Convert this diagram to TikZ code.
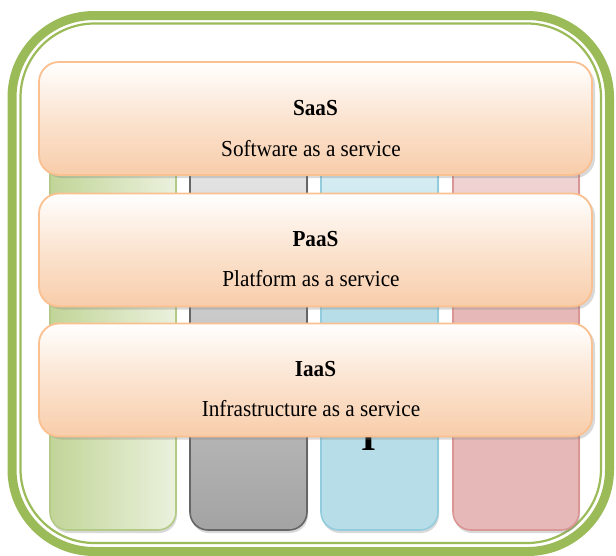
\documentclass[tikz,border=0pt]{standalone}
\usepackage{fontspec}
\usepackage{graphicx}
\setmainfont{Liberation Serif}
\usetikzlibrary{shadows}
\definecolor{frameg}{HTML}{9BBB59}
\definecolor{peachb}{HTML}{F8CDAA}
\definecolor{peachd}{HTML}{FAC090}
\definecolor{grnL}{HTML}{C2D598}
\definecolor{grnR}{HTML}{EBF1DE}
\definecolor{grnB}{HTML}{B3CB86}
\definecolor{gryB}{HTML}{666666}
\definecolor{bluF}{HTML}{B7DEE8}
\definecolor{bluB}{HTML}{93CDDD}
\definecolor{redF}{HTML}{E6B9B8}
\definecolor{redB}{HTML}{D99694}
\newcommand\tallTxt[1]{\scalebox{1}[1.08]{#1}}
\tikzset{
  col/.style={rectangle, rounded corners=18pt, inner sep=0pt, line width=1.6pt,
    drop shadow={shadow xshift=1pt, shadow yshift=-3pt, opacity=0.3}},
  layer/.style={rectangle, rounded corners=20pt, inner sep=0pt, draw=peachd, line width=1.8pt,
    minimum width=553pt, minimum height=113pt, top color=white, bottom color=peachb, middle color=peachb!55,
    drop shadow={shadow xshift=3pt, shadow yshift=-3pt, opacity=0.3}},
  ttl/.style={anchor=base, font=\fontsize{21.2}{25}\selectfont\bfseries},
  sub/.style={anchor=base, font=\fontsize{21.2}{25}\selectfont},
}
\begin{document}
\begin{tikzpicture}[x=1pt,y=-1pt]
\useasboundingbox (0,0) rectangle (616,555);
% frame
\draw[frameg, line width=9pt, rounded corners=82pt] (12,15.5) rectangle (609.5,551.5);
\draw[frameg, line width=2.2pt, rounded corners=74pt] (20.5,23.5) rectangle (601,543);
% columns
\node[col, draw=grnB, left color=grnL, right color=grnR, minimum width=126pt, minimum height=455pt] (cg) at (113,302.5) {};
\node[col, draw=gryB, top color=gray!8, bottom color=gray!72, minimum width=117pt, minimum height=455pt] (ck) at (248.5,302.5) {};
\node[col, draw=bluB, top color=bluF!25, bottom color=bluF, middle color=bluF, minimum width=117pt, minimum height=455pt] (cb) at (379.5,302.5) {};
\node[col, draw=redB, top color=redF!30, bottom color=redF, middle color=redF, minimum width=126pt, minimum height=455pt] (cr) at (516,302.5) {};
\node[anchor=base, font=\fontsize{38}{40}\selectfont\bfseries] (hid) at (369,450) {I};
% layers
\node[layer] (saas) at (315.5,118.5) {};
\node[layer] (paas) at (315.5,250) {};
\node[layer] (iaas) at (315.5,380) {};
\node[ttl] (saasT) at (315.5,115) {\tallTxt{SaaS}};
\node[sub] (saasS) at (311,156) {\tallTxt{Software as a service}};
\node[ttl] (paasT) at (315.5,246) {\tallTxt{PaaS}};
\node[sub] (paasS) at (311,286) {\tallTxt{Platform as a service}};
\node[ttl] (iaasT) at (315.5,376) {\tallTxt{IaaS}};
\node[sub] (iaasS) at (311,416) {\tallTxt{Infrastructure as a service}};
\end{tikzpicture}
\end{document}
